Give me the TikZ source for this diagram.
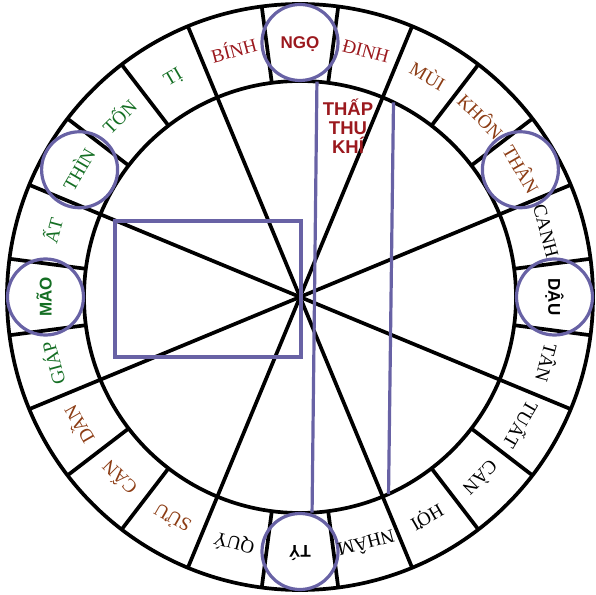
\documentclass[tikz,border=0pt]{standalone}
\usepackage{fontspec}
\setmainfont{Liberation Serif}
\setsansfont{Liberation Sans}
\definecolor{fire}{RGB}{155,25,30}
\definecolor{earth}{RGB}{140,60,20}
\definecolor{wood}{RGB}{20,110,35}
\definecolor{metal}{RGB}{0,0,0}
\definecolor{ring}{RGB}{104,98,165}
\newcommand\reg{\fontsize{19}{21}\selectfont}
\newcommand\bld{\fontsize{17}{19}\selectfont\sffamily\bfseries}
\newcommand\ttl{\fontsize{18.5}{19}\selectfont\sffamily\bfseries}

\begin{document}
\begin{tikzpicture}[
       x=1pt, y=1pt,
       rim/.style={draw=black, line width=3.7pt},
       hl/.style={draw=ring, line width=3.2pt},
       lbl/.style={inner sep=0pt, text height=12.5pt, text depth=0pt, anchor=center}
   ]
   \useasboundingbox (-300,-297) rectangle (296,297);
   \coordinate (o) at (0,0);

   \draw[rim] (o) circle (293pt);
   \draw[rim] (o) circle (216pt);
   \foreach \a in {7.5,22.5,...,352.5}
      \draw[rim] (\a:216) -- (\a:293);
   \foreach \a in {22.5,67.5,112.5,157.5}
      \draw[rim] (\a:216) -- (\a+180:216);

   \coordinate (a1) at (85.5:216);
   \coordinate (a2) at (273.2:216);
   \coordinate (b1) at (64.35:216);
   \coordinate (b2) at (294.2:216);
   \draw[hl] (a1) -- (a2);
   \draw[hl] (b1) -- (b2);
   \draw[hl] (-185,76) rectangle (1,-60);
   \foreach \a in {90,30,0,270,180,150}
      \draw[hl] (\a:254.5) circle (38pt);

   \foreach \a/\t/\c/\f [count=\i] in {
      90/NGỌ/fire/\bld, 75/ĐINH/fire/\reg, 60/MÙI/earth/\reg, 45/KHÔN/earth/\reg,
      30/THÂN/earth/\reg, 15/CANH/metal/\reg, 0/DẬU/metal/\bld, -15/TÂN/metal/\reg,
      -30/TUẤT/metal/\reg, -45/CÀN/metal/\reg, -60/HỢI/metal/\reg, -75/NHÂM/metal/\reg,
      -90/TÝ/metal/\bld, -105/QUÝ/metal/\reg, -120/SỬU/earth/\reg, -135/CẤN/earth/\reg,
      -150/DẦN/earth/\reg, -165/GIÁP/wood/\reg, -180/MÃO/wood/\bld, -195/ẤT/wood/\reg,
      -210/THÌN/wood/\reg, -225/TỐN/wood/\reg, -240/TỊ/wood/\reg, -255/BÍNH/fire/\reg}
      \node[lbl, text=\c, font=\f, rotate=\a-90] (m\i) at (\a:254.5) {\t};

   \node[align=center, font=\ttl, text=fire, inner sep=0pt] (qi) at (48,171) {THẤP\\THU\\KHÍ};
\end{tikzpicture}
\end{document}
